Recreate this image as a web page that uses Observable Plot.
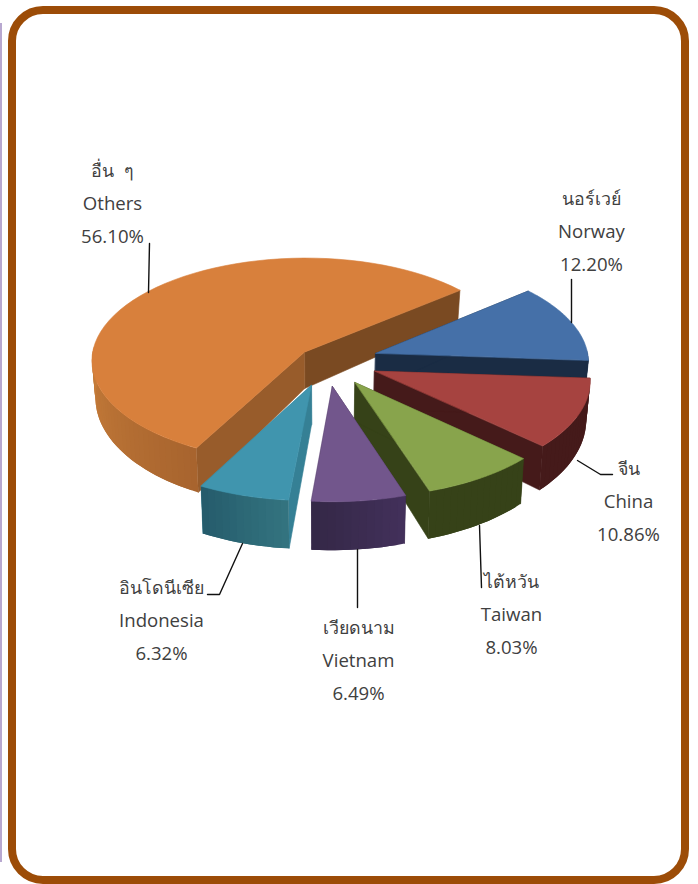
<!DOCTYPE html>
<html><head><meta charset="utf-8">
<script src="https://cdn.jsdelivr.net/npm/d3@7"></script>
<script src="https://cdn.jsdelivr.net/npm/@observablehq/plot@0.6"></script>
<style>html,body{margin:0;padding:0;background:#fff}svg{display:block}</style>
</head><body><div id="chart"></div>
<script>
// Data
const namesThai = ["อื่น\u00A0\u00A0ๆ","นอร์เวย์","จีน","ไต้หวัน","เวียดนาม","อินโดนีเซีย"];
const namesEn = ["Others","Norway","China","Taiwan","Vietnam","Indonesia"];
const shares = [56.10,12.20,10.86,8.03,6.49,6.32];
const topColors = ["#d8803c","#4570a8","#a64340","#88a44c","#72568c","#4095ae"];
const wallStart = ["#c67d3a","#1a2c44","#451a1a","#364218","#42305a","#33737f"];
const wallEnd = ["#a8642e","#1a2c44","#451a1a","#364218","#332745","#245a6a"];
const radialA = ["#985c2b","#1a2c44","#451a1a","#364218","#3a2a4e","#358095"]; // wall at slice start
const radialB = ["#7a4a22","#1a2c44","#451a1a","#364218","#3a2a4e","#358095"]; // wall at slice end

// Projection settings
const W=698,H=884,cx=326,cy=360.5,rx=213,ry=102.6,persp=0.075,depth=37;
const startAngle=118, explode=[0.135,0.245,0.245,0.245,0.245,0.245];
const rad=d=>d*Math.PI/180;
function proj(X,Z,bottom){
  const w=1/(1-persp*Z);
  let x=cx+rx*X*w, y=cy+ry*Z*w;
  if(bottom){ x=cx+(x-cx)*0.985; y+=depth*(1+0.25*Z); }
  return {x,y};
}
// slice geometry from shares
let acc=startAngle;
const slices=shares.map((s,i)=>{
  const a0=acc,a1=acc+s*3.6; acc=a1;
  const mid=rad((a0+a1)/2),e=explode[i];
  const ox=e*Math.cos(mid),oz=e*Math.sin(mid);
  const rim=a=>({X:ox+Math.cos(rad(a)),Z:oz+Math.sin(rad(a))});
  return {i,a0,a1,ox,oz,rim};
});
const marks=[];
const poly=(pts,fill,edge=true)=>marks.push(Plot.line(pts,{x:"x",y:"y",fill,stroke:edge?fill:"none",strokeWidth:0.6,curve:"linear-closed"}));
// page edge strip and frame
marks.push(Plot.rect([0],{x1:()=>0,x2:()=>2,y1:()=>23,y2:()=>862,fill:"#b8a8d0"}));
marks.push(Plot.rect([0],{x1:()=>12,x2:()=>685,y1:()=>10,y2:()=>880,rx:31,fill:"white",stroke:"#9c4c07",strokeWidth:8}));
function drawSlice(sl){
  const {i,a0,a1,ox,oz,rim}=sl;
  const apexT=proj(ox,oz,false),apexB=proj(ox,oz,true);
  const p0=rim(a0),p1=rim(a1);
  // radial walls
  const wall=(p,c)=>poly([apexT,proj(p.X,p.Z,false),proj(p.X,p.Z,true),apexB],c);
  wall(p1,radialB[i]);
  wall(p0,radialA[i]);
  // outer wall: overlapping strips, each covering the next so no seams appear
  const n=Math.ceil((a1-a0)/2);
  const col=d3.interpolateRgb(wallStart[i],wallEnd[i]);
  const at=k=>a0+(a1-a0)*Math.min(k,n)/n;
  for(let k=0;k<n;k++){
    const m=(at(k)+at(k+1))/2;
    if(Math.sin(rad(m))<-0.05) continue;
    const t=i===0?Math.max(0,1-Math.abs(m-180)/62):k/n;
    const shade=i===0?d3.interpolateRgb(wallEnd[0],wallStart[0])(t):col(t);
    const as=[at(k),at(k+1),at(k+2)].map(rim);
    poly([...as.map(p=>proj(p.X,p.Z,false)),...as.slice().reverse().map(p=>proj(p.X,p.Z,true))],shade,false);
  }
  // top
  const top=[apexT];
  for(let k=0;k<=60;k++){const a=a0+(a1-a0)*k/60;const p=rim(a);top.push(proj(p.X,p.Z,false));}
  poly(top,topColors[i]);
}
[0,1,2,3,5,4].forEach(i=>drawSlice(slices[i]));

// Leader lines and labels
const leaders=[
 [[149,243],[148,292]],
 [[571,279],[571,322]],
 [[577,460],[600,474],[612,474]],
 [[479,525],[481,587]],
 [[357,549],[357,607]],
 [[242,543],[219,594],[207,594]]
];
leaders.forEach(l=>marks.push(Plot.line(l,{x:d=>d[0],y:d=>d[1],stroke:"#111",strokeWidth:1.4})));
const labelPos=[[112,171],[591,199],[628,469],[511,582],[358,628],[161,588]];
const lineGap=32.8;
const rowFont={fontFamily:"'Open Sans','Noto Sans',sans-serif",fill:"#404040",textAnchor:"middle"};
const thaiRows=shares.map((s,i)=>({t:namesThai[i],x:labelPos[i][0],y:labelPos[i][1]}));
const latinRows=shares.flatMap((s,i)=>[
 {t:namesEn[i],x:labelPos[i][0],y:labelPos[i][1]+lineGap},
 {t:s.toFixed(2)+"%",x:labelPos[i][0],y:labelPos[i][1]+2*lineGap}
]);
marks.push(Plot.text(thaiRows,{x:"x",y:"y",text:"t",fontSize:17.8,...rowFont}));
marks.push(Plot.text(latinRows,{x:"x",y:"y",text:"t",fontSize:18.6,...rowFont}));

const chart=Plot.plot({width:W,height:H,margin:0,
 x:{domain:[0,W],range:[0,W],axis:null},y:{domain:[0,H],range:[0,H],axis:null},
 marks});
document.getElementById("chart").append(chart);
</script></body></html>
